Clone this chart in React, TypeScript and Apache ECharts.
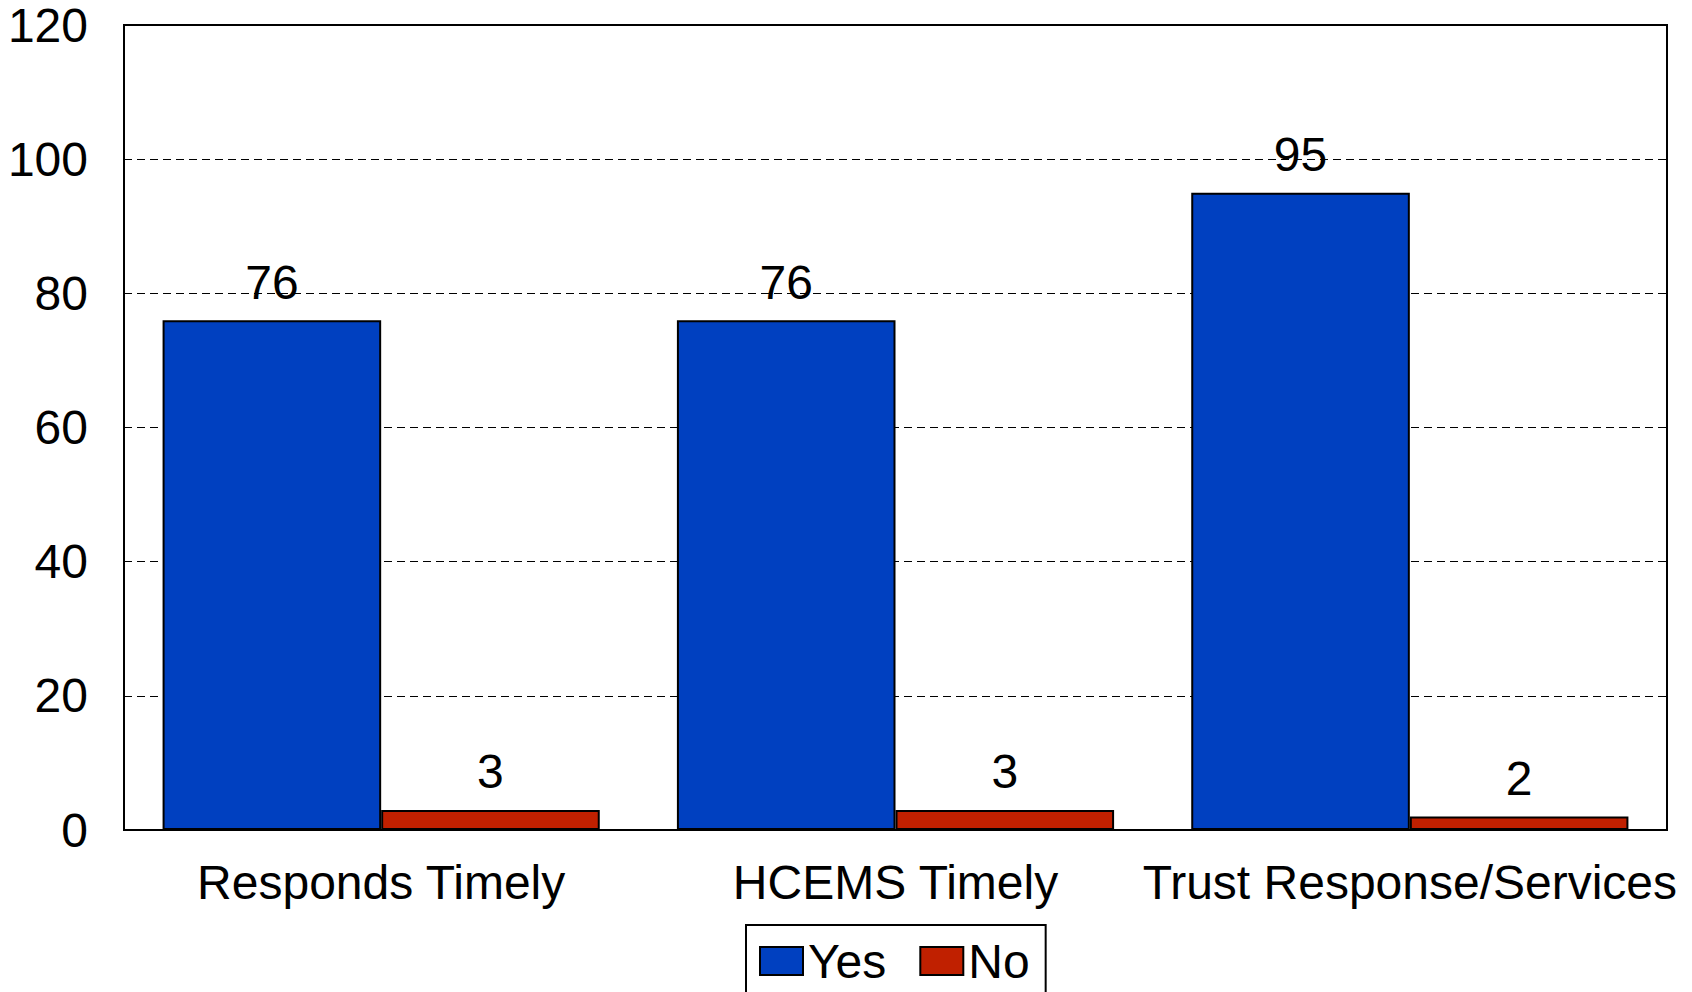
import React, { useEffect, useRef } from "react";
import * as echarts from "echarts";

const categories = ["Responds Timely", "HCEMS Timely", "Trust Response/Services"];
const yesValues = [76, 76, 95];
const noValues = [3, 3, 2];
const seriesNames = ["Yes", "No"];

const FONT = "'Liberation Sans', Arial, sans-serif";
const FS = 48;

export default function App() {
  const ref = useRef<HTMLDivElement>(null);
  useEffect(() => {
    if (!ref.current) return;
    const chart = echarts.init(ref.current, undefined, { renderer: "svg" });
    const labelStyle = {
      show: true,
      position: "top" as const,
      distance: 14,
      color: "#000",
      fontSize: FS,
      lineHeight: FS,
      fontFamily: FONT,
    };
    chart.setOption({
      animation: false,
      backgroundColor: "#fff",
      textStyle: { fontFamily: FONT },
      grid: {
        left: 124,
        right: 25,
        top: 25,
        bottom: 162,
        show: true,
        borderColor: "#000",
        borderWidth: 2,
        backgroundColor: "transparent",
      },
      legend: {
        data: seriesNames.map((n) => ({ name: n, icon: "rect" })),
        left: 746,
        top: 925,
        orient: "horizontal",
        itemWidth: 43,
        itemHeight: 28,
        itemGap: 33,
        padding: [12, 16, 12, 13],
        borderColor: "#000",
        borderWidth: 2,
        textStyle: { fontSize: FS, lineHeight: FS, color: "#000", fontFamily: FONT },
      },
      xAxis: {
        type: "category",
        data: categories,
        axisLine: { show: true, lineStyle: { color: "#000", width: 2 } },
        axisTick: { show: false },
        axisLabel: {
          color: "#000",
          fontSize: FS,
          lineHeight: FS,
          margin: 28,
          fontFamily: FONT,
          interval: 0,
        },
      },
      yAxis: {
        type: "value",
        min: 0,
        max: 120,
        interval: 20,
        axisLine: { show: true, lineStyle: { color: "#000", width: 2 } },
        axisTick: { show: false },
        axisLabel: {
          color: "#000",
          fontSize: FS,
          margin: 36,
          fontFamily: FONT,
        },
        splitLine: {
          show: true,
          lineStyle: { color: "#000", width: 1, type: [8, 5] },
        },
      },
      series: [
        {
          name: seriesNames[0],
          type: "bar",
          data: yesValues,
          barGap: "0%",
          barCategoryGap: "15%",
          itemStyle: { color: "#0040C0", borderColor: "#000", borderWidth: 2 },
          label: labelStyle,
        },
        {
          name: seriesNames[1],
          type: "bar",
          data: noValues,
          barGap: "0%",
          barCategoryGap: "15%",
          itemStyle: { color: "#C02000", borderColor: "#000", borderWidth: 2 },
          label: labelStyle,
        },
      ],
    });
    return () => chart.dispose();
  }, []);
  return (
    <div
      ref={ref}
      style={{ position: "fixed", left: 0, top: 0, width: 1692, height: 992, background: "#fff" }}
    />
  );
}
